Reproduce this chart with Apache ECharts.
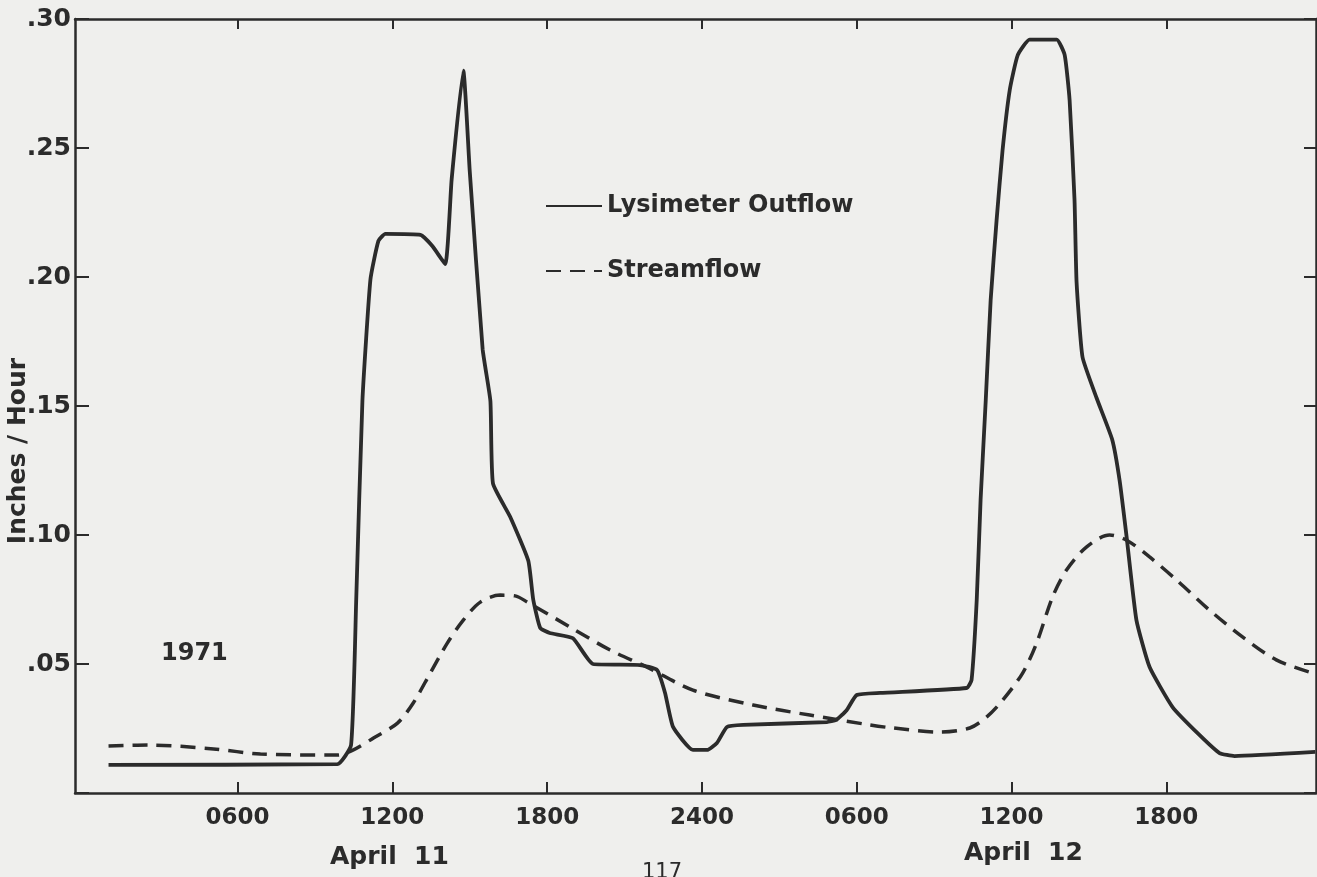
<!DOCTYPE html>
<html lang="en">
<head>
    <meta charset="utf-8">
    <title>Lysimeter Outflow and Streamflow, April 1971</title>
    <script src="https://cdn.jsdelivr.net/npm/echarts@6/dist/echarts.min.js"></script>
    <style type="text/css">
        html, body {
            margin: 0;
            padding: 0;
            background: #efefed;
        }

        #main {
            width: 1317px;
            height: 877px;
        }
    </style>
</head>
<body>
<div id="main"></div>

<script type="text/javascript">
    // hours counted from 0000 April 11
    var lysHours = [1.0, 9.87, 10.4, 10.6, 10.84, 11.15, 11.46, 11.73, 13.09, 13.55, 14.05, 14.3, 14.75, 15.0, 15.5,
        15.8, 15.9, 16.57, 17.27, 17.46, 17.73, 18.1, 19.0, 19.78, 21.6, 22.26, 22.57, 22.88, 23.65, 24.2, 24.58,
        24.97, 25.6, 28.84, 29.2, 29.6, 30.0, 30.9, 34.26, 34.45, 34.65, 34.8, 35.0, 35.19, 35.42, 35.65, 35.93,
        36.24, 36.7, 37.75, 38.06, 38.25, 38.44, 38.52, 38.75, 39.3, 39.9, 40.19, 40.46, 40.84, 41.35, 42.24,
        43.28, 44.06, 44.64, 47.77];
    var lysValues = [0.0109, 0.0112, 0.0186, 0.075, 0.152, 0.199, 0.214, 0.2167, 0.2163, 0.212, 0.205, 0.238, 0.280,
        0.241, 0.172, 0.152, 0.120, 0.107, 0.090, 0.075, 0.064, 0.062, 0.060, 0.050, 0.0496, 0.0477, 0.0388, 0.0256,
        0.0167, 0.0167, 0.0194, 0.0256, 0.0264, 0.0275, 0.0283, 0.032, 0.038, 0.0388, 0.0407, 0.0438, 0.0748, 0.1136,
        0.1523, 0.191, 0.222, 0.249, 0.2725, 0.286, 0.292, 0.292, 0.286, 0.2686, 0.23, 0.198, 0.169, 0.153, 0.137,
        0.121, 0.0992, 0.067, 0.0488, 0.0333, 0.0225, 0.0155, 0.0143, 0.0159];

    var streamHours = [1.0, 2.52, 5.07, 6.89, 9.87, 10.49, 11.27, 12.2, 12.81, 13.47, 14.13, 14.75, 15.41, 16.18,
        16.76, 17.23, 18.89, 20.44, 21.87, 23.65, 25.98, 28.18, 30.5, 31.4, 33.22, 34.38, 35.04, 35.66, 36.43, 36.97,
        37.59, 38.13, 38.9, 39.8, 40.46, 41.35, 42.39, 43.67, 44.95, 46.26, 47.66];
    var streamValues = [0.0182, 0.0186, 0.0171, 0.0151, 0.0147, 0.0167, 0.0213, 0.0271, 0.0349, 0.0465, 0.0581,
        0.067, 0.074, 0.0767, 0.0764, 0.074, 0.0643, 0.0554, 0.0488, 0.0399, 0.0341, 0.0302, 0.0264, 0.0252, 0.0236,
        0.0252, 0.0295, 0.036, 0.0465, 0.0581, 0.076, 0.0864, 0.0953, 0.100, 0.098, 0.0915, 0.0826, 0.0709, 0.0605,
        0.0516, 0.0465];

    var tickHours = [6, 12, 18, 24, 30, 36, 42];
    var tickLabels = ['0600', '1200', '1800', '2400', '0600', '1200', '1800'];

    function pairs(xs, ys) {
        var out = [];
        for (var i = 0; i < xs.length; i++) {
            out.push([xs[i], ys[i]]);
        }
        return out;
    }

    var ink = '#2b2b2b';
    var font = 'DejaVu Sans';

    var myChart = echarts.init(document.getElementById('main'));
    var option = {
        backgroundColor: '#efefed',
        animation: false,
        grid: {left: 75, right: 1, top: 19, bottom: 84, containLabel: false, outerBoundsMode: 'none'},
        legend: {
            orient: 'vertical',
            left: 540,
            top: 189,
            itemWidth: 56,
            itemHeight: 14,
            itemGap: 41,
            data: ['Lysimeter Outflow', 'Streamflow'],
            itemStyle: {opacity: 0},
            textStyle: {fontFamily: font, fontWeight: 'bold', fontSize: 24, color: ink}
        },
        xAxis: [{
            type: 'value',
            min: -0.3,
            max: 47.8,
            splitLine: {show: false},
            axisLine: {onZero: false, lineStyle: {color: ink, width: 2.5}},
            axisTick: {inside: true, length: 11, customValues: tickHours, lineStyle: {color: ink, width: 2}},
            axisLabel: {
                customValues: tickHours,
                margin: 14,
                fontFamily: font, fontWeight: 'bold', fontSize: 23, color: ink,
                formatter: function (v) {
                    return tickLabels[tickHours.indexOf(v)];
                }
            }
        }, {
            type: 'value',
            position: 'top',
            min: -0.3,
            max: 47.8,
            splitLine: {show: false},
            axisLine: {onZero: false, lineStyle: {color: ink, width: 2.5}},
            axisTick: {inside: true, length: 10, customValues: tickHours, lineStyle: {color: ink, width: 2}},
            axisLabel: {show: false}
        }],
        yAxis: [{
            type: 'value',
            min: 0,
            max: 0.30,
            interval: 0.05,
            name: 'Inches / Hour',
            nameLocation: 'middle',
            nameGap: 44,
            nameMoveOverlap: false,
            nameTextStyle: {fontFamily: font, fontWeight: 'bold', fontSize: 25, color: ink, padding: [0, 90, 0, 0]},
            splitLine: {show: false},
            axisLine: {onZero: false, lineStyle: {color: ink, width: 2.5}},
            axisTick: {inside: true, length: 14, lineStyle: {color: ink, width: 2}},
            axisLabel: {
                margin: 4,
                fontFamily: font, fontWeight: 'bold', fontSize: 25, color: ink,
                formatter: function (v) {
                    if (v === 0) return '';
                    return v.toFixed(2).replace(/^0/, '');
                }
            }
        }, {
            type: 'value',
            position: 'right',
            min: 0,
            max: 0.30,
            interval: 0.05,
            splitLine: {show: false},
            axisLine: {onZero: false, lineStyle: {color: ink, width: 2.5}},
            axisTick: {inside: true, length: 12, lineStyle: {color: ink, width: 2}},
            axisLabel: {show: false}
        }],
        graphic: [
            {type: 'text', left: 161, top: 642,
                style: {text: '1971', font: 'bold 24px "DejaVu Sans"', fill: ink}},
            {type: 'text', left: 330, top: 845,
                style: {text: 'April  11', font: 'bold 25px "DejaVu Sans"', fill: ink}},
            {type: 'text', left: 964, top: 841,
                style: {text: 'April  12', font: 'bold 25px "DejaVu Sans"', fill: ink}},
            {type: 'text', left: 642, top: 862,
                style: {text: '117', font: '21px "DejaVu Sans"', fill: ink}}
        ],
        series: [{
            name: 'Lysimeter Outflow',
            type: 'line',
            data: pairs(lysHours, lysValues),
            showSymbol: false,
            symbol: 'none',
            smooth: 0.15,
            lineStyle: {color: ink, width: 3.8},
            itemStyle: {color: ink}
        }, {
            name: 'Streamflow',
            type: 'line',
            data: pairs(streamHours, streamValues),
            showSymbol: false,
            symbol: 'none',
            smooth: 0.3,
            lineStyle: {color: ink, width: 3.5, type: [15, 9]},
            itemStyle: {color: ink}
        }]
    };
    myChart.setOption(option);
</script>
</body>
</html>
